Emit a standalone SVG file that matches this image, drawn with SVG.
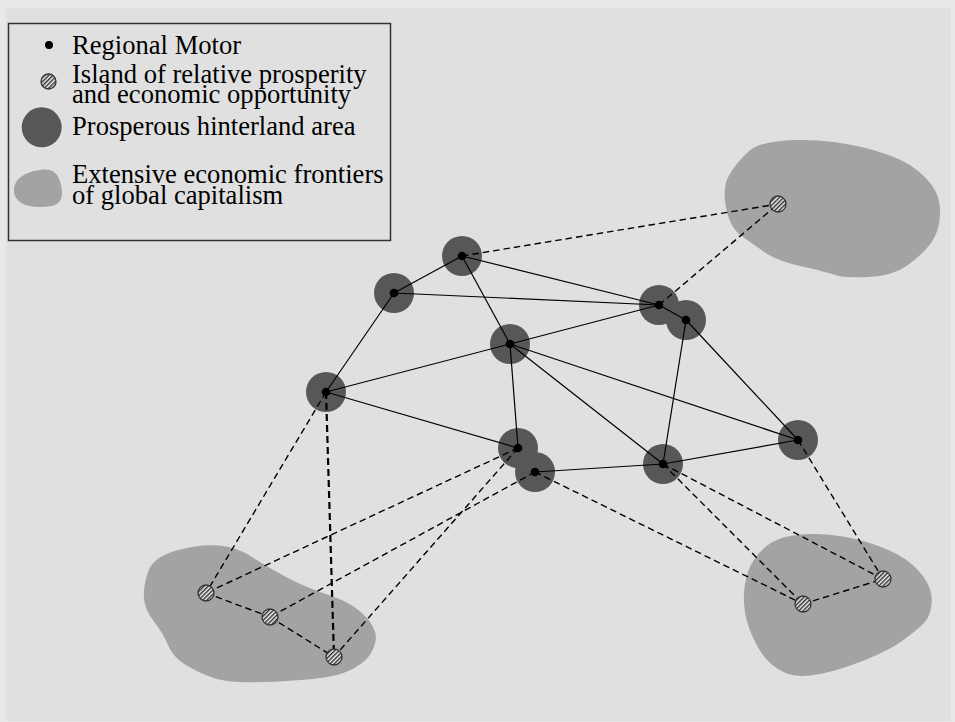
<svg xmlns="http://www.w3.org/2000/svg" width="955" height="722" viewBox="0 0 955 722">
<defs>
<pattern id="hatch" patternUnits="userSpaceOnUse" width="3" height="3" patternTransform="rotate(45)">
<rect width="3" height="3" fill="#f4f4f4"/>
<rect width="1.5" height="3" fill="#333"/>
</pattern>
</defs>
<style>
.frontier{fill:#a3a3a3}
.hinter{fill:#575757}
.motor{fill:#000}
.island{fill:url(#hatch);stroke:#333;stroke-width:1.3}
.solid{stroke:#000;stroke-width:1.2;fill:none}
.dash{stroke:#000;stroke-width:1.4;stroke-dasharray:6.5 4;fill:none}
.dashb{stroke:#000;stroke-width:2.2;stroke-dasharray:7 4;fill:none}
.lt{font-family:"Liberation Serif","Times New Roman",serif;font-size:26.6px;fill:#000}
</style>
<rect width="955" height="722" fill="#e8e8e8"/>
<rect x="6" y="8" width="945" height="713" fill="#e0e0e0"/>

<g id="legend">
<rect x="8.5" y="23.5" width="382" height="217" fill="#e0e0e0" stroke="#333" stroke-width="1.5"/>
<circle cx="49" cy="45" r="4" class="motor"/>
<circle cx="48.5" cy="81.5" r="7.5" class="island"/>
<circle cx="41.7" cy="127.3" r="20" class="hinter"/>
<path class="frontier" d="M14,190 C14,180 24,172 40,170 C52,168 58,172 61,185 C64,198 60,204 52,206 C40,208 26,207 20,202 C15,198 14,194 14,190 Z"/>
<text class="lt" x="72" y="54">Regional Motor</text>
<text class="lt" x="72" y="83">Island of relative prosperity</text>
<text class="lt" x="72" y="103">and economic opportunity</text>
<text class="lt" x="72" y="135">Prosperous hinterland area</text>
<text class="lt" x="72" y="183">Extensive economic frontiers</text>
<text class="lt" x="72" y="204">of global capitalism</text>
</g>

<g id="frontier-ne"><path class="frontier" d="M748.5,151.5 Q760,141 795,140 Q830,139 863.5,147.5 Q897,156 912,166.5 Q927,177 934,188.5 Q941,200 940,216 Q939,232 931,243 Q923,254 908,265 Q893,276 868,277 Q843,278 835,275 Q827,272 802,266.5 Q777,261 765,252.5 Q753,244 741.5,236 Q730,228 726,207.5 Q722,187 729.5,174.5 Q737,162 748.5,151.5 Z"/></g>
<g id="frontier-se"><path class="frontier" d="M766.5,546 Q780,535 808.5,534 Q837,533 865,541.5 Q893,550 906.5,560 Q920,570 926.5,581.5 Q933,593 931.5,605 Q930,617 923.5,623.5 Q917,630 903.5,640 Q890,650 865,660 Q840,670 820,674 Q800,678 788.5,674 Q777,670 768.5,661.5 Q760,653 752.5,636.5 Q745,620 744,603.5 Q743,587 748,572 Q753,557 766.5,546 Z"/></g>
<g id="frontier-sw"><path class="frontier" d="M148,572 Q153,557 176.5,550.5 Q200,544 218.5,545.5 Q237,547 252,557 Q267,567 287,577.5 Q307,588 330,595.5 Q353,603 365.5,616.5 Q378,630 375.5,641.5 Q373,653 365,660.5 Q357,668 342,673.5 Q327,679 278.5,681.5 Q230,684 213.5,678 Q197,672 185,664.5 Q173,657 168,645 Q163,633 154,621.5 Q145,610 144,598.5 Q143,587 148,572 Z"/></g>

<g id="node-a"><circle cx="462" cy="256" r="20" class="hinter"/><circle cx="462" cy="256" r="4.3" class="motor"/></g>
<g id="node-b"><circle cx="394" cy="293" r="20" class="hinter"/><circle cx="394" cy="293" r="4.3" class="motor"/></g>
<g id="node-c"><circle cx="510" cy="344" r="20" class="hinter"/><circle cx="510" cy="344" r="4.3" class="motor"/></g>
<g id="node-d"><circle cx="326" cy="392" r="20" class="hinter"/><circle cx="326" cy="392" r="4.3" class="motor"/></g>
<g id="node-e"><circle cx="659" cy="305" r="20" class="hinter"/><circle cx="659" cy="305" r="4.3" class="motor"/></g>
<g id="node-f"><circle cx="686" cy="320" r="20" class="hinter"/><circle cx="686" cy="320" r="4.3" class="motor"/></g>
<g id="node-g"><circle cx="518" cy="448" r="20" class="hinter"/><circle cx="518" cy="448" r="4.3" class="motor"/></g>
<g id="node-h"><circle cx="535" cy="472" r="20" class="hinter"/><circle cx="535" cy="472" r="4.3" class="motor"/></g>
<g id="node-i"><circle cx="663" cy="464" r="20" class="hinter"/><circle cx="663" cy="464" r="4.3" class="motor"/></g>
<g id="node-j"><circle cx="798" cy="440" r="20" class="hinter"/><circle cx="798" cy="440" r="4.3" class="motor"/></g>

<g id="connectors">
<line class="solid" x1="462" y1="256" x2="394" y2="293"/>
<line class="solid" x1="462" y1="256" x2="659" y2="305"/>
<line class="solid" x1="462" y1="256" x2="510" y2="344"/>
<line class="solid" x1="394" y1="293" x2="659" y2="305"/>
<line class="solid" x1="394" y1="293" x2="326" y2="392"/>
<line class="solid" x1="326" y1="392" x2="510" y2="344"/>
<line class="solid" x1="326" y1="392" x2="518" y2="448"/>
<line class="solid" x1="510" y1="344" x2="659" y2="305"/>
<line class="solid" x1="510" y1="344" x2="518" y2="448"/>
<line class="solid" x1="510" y1="344" x2="663" y2="464"/>
<line class="solid" x1="510" y1="344" x2="798" y2="440"/>
<line class="solid" x1="659" y1="305" x2="686" y2="320"/>
<line class="solid" x1="686" y1="320" x2="663" y2="464"/>
<line class="solid" x1="686" y1="320" x2="798" y2="440"/>
<line class="solid" x1="535" y1="472" x2="663" y2="464"/>
<line class="solid" x1="663" y1="464" x2="798" y2="440"/>

<line class="dash" x1="462" y1="256" x2="778" y2="204"/>
<line class="dash" x1="659" y1="305" x2="778" y2="204"/>
<line class="dash" x1="326" y1="392" x2="206" y2="593"/>
<line class="dashb" x1="326" y1="392" x2="334" y2="657"/>
<line class="dash" x1="518" y1="448" x2="206" y2="593"/>
<line class="dash" x1="518" y1="448" x2="334" y2="657"/>
<line class="dash" x1="535" y1="472" x2="270" y2="617"/>
<line class="dash" x1="206" y1="593" x2="270" y2="617"/>
<line class="dash" x1="270" y1="617" x2="334" y2="657"/>
<line class="dash" x1="535" y1="472" x2="803" y2="604"/>
<line class="dash" x1="663" y1="464" x2="803" y2="604"/>
<line class="dash" x1="663" y1="464" x2="883" y2="579"/>
<line class="dash" x1="803" y1="604" x2="883" y2="579"/>
<line class="dash" x1="798" y1="440" x2="883" y2="579"/>
</g>

<g id="island-ne"><circle cx="778" cy="204" r="8" class="island"/></g>
<g id="island-sw1"><circle cx="206" cy="593" r="8" class="island"/></g>
<g id="island-sw2"><circle cx="270" cy="617" r="8" class="island"/></g>
<g id="island-sw3"><circle cx="334" cy="657" r="8" class="island"/></g>
<g id="island-se1"><circle cx="803" cy="604" r="8" class="island"/></g>
<g id="island-se2"><circle cx="883" cy="579" r="8" class="island"/></g>
</svg>
